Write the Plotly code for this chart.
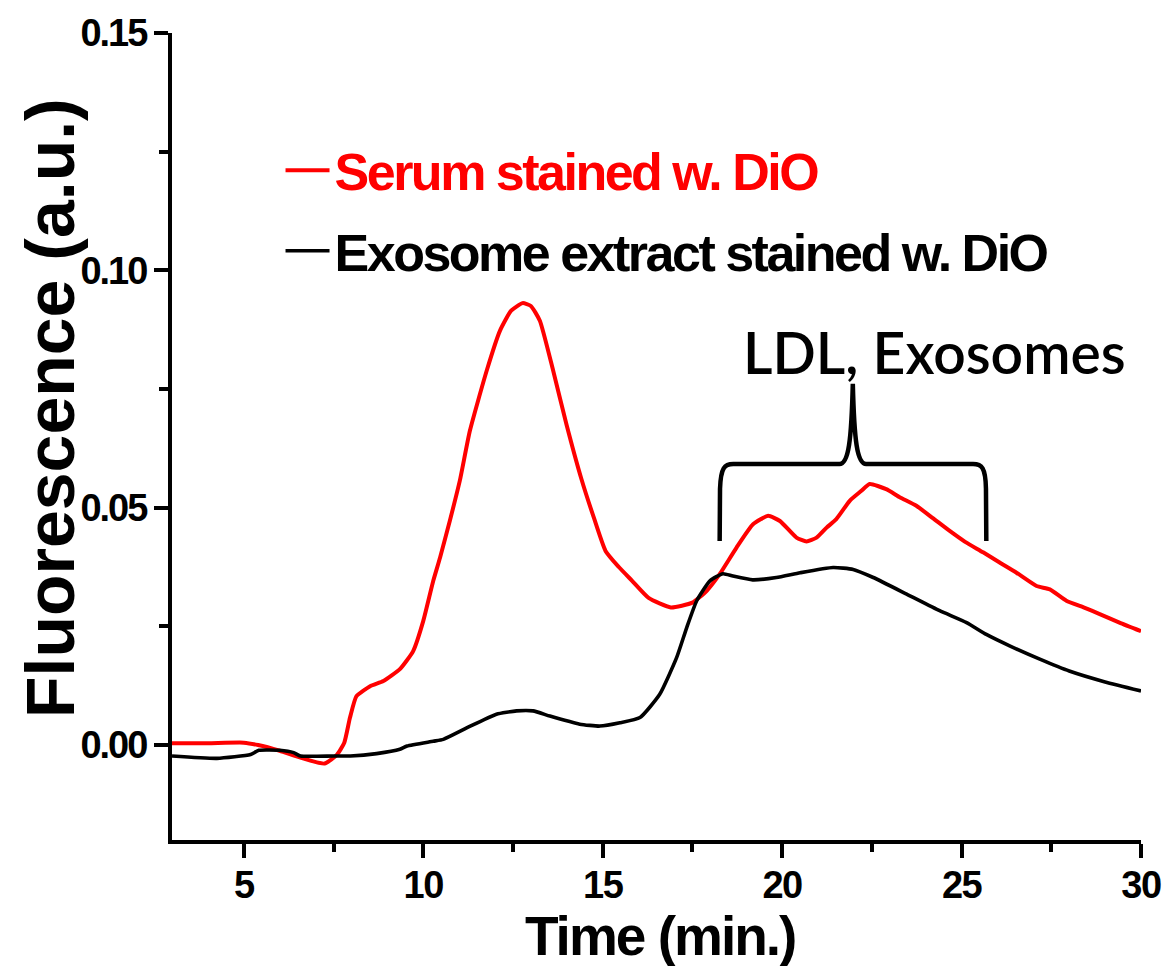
import plotly.graph_objects as go

# ---- data ----
t_serum = [3.0, 4.0, 5.0, 5.4, 6.0, 6.6, 7.25, 7.6, 7.8, 7.96, 8.14, 8.52, 8.89, 9.35, 9.72,
           10.0, 10.28, 10.47, 10.74, 11.02, 11.3, 11.77, 12.14, 12.45, 12.77, 13.0, 13.25,
           13.62, 13.99, 14.41, 14.75, 15.08, 15.45, 15.82, 16.28, 16.9, 17.5, 17.9, 18.26,
           18.73, 19.19, 19.61, 19.94, 20.4, 20.68, 20.96, 21.24, 21.51, 21.89, 22.2, 22.44,
           22.9, 23.28, 23.74, 24.2, 24.67, 25.1, 25.6, 26.05, 26.53, 27.09, 27.46, 27.92,
           28.4, 28.85, 29.4, 30.0]
y_serum = [0.0004, 0.0004, 0.0005, 0.0000, -0.0012, -0.0027, -0.0039, -0.0020, 0.0005, 0.0058,
           0.0103, 0.0124, 0.0135, 0.0160, 0.0198, 0.0261, 0.0346, 0.0395, 0.0472, 0.0557,
           0.0662, 0.0789, 0.0873, 0.0915, 0.0931, 0.0925, 0.0894, 0.0789, 0.0676, 0.0560,
           0.0480, 0.0409, 0.0375, 0.0346, 0.0310, 0.0290, 0.0300, 0.0325, 0.0360, 0.0416,
           0.0465, 0.0483, 0.0472, 0.0437, 0.0429, 0.0437, 0.0458, 0.0476, 0.0515, 0.0535,
           0.0550, 0.0539, 0.0522, 0.0504, 0.0478, 0.0451, 0.0428, 0.0406, 0.0385, 0.0363,
           0.0335, 0.0328, 0.0304, 0.0290, 0.0276, 0.0258, 0.0240]

t_exo = [3.0, 4.25, 5.19, 5.42, 6.0, 6.39, 6.58, 7.5, 7.97, 8.7, 9.35, 9.55, 10.28, 10.56,
         11.21, 12.04, 12.6, 13.06, 13.53, 14.36, 14.92, 15.48, 16.04, 16.59, 17.06, 17.34,
         17.62, 17.99, 18.35, 18.63, 19.18, 19.84, 20.5, 21.42, 21.98, 22.54, 23.47, 24.39,
         25.14, 25.69, 26.34, 27.18, 28.0, 29.0, 30.0]
y_exo = [-0.0023, -0.0028, -0.0020, -0.0011, -0.0011, -0.0016, -0.0023, -0.0023, -0.0023,
         -0.0018, -0.0009, -0.0002, 0.0008, 0.0012, 0.0036, 0.0065, 0.0072, 0.0072, 0.0061,
         0.0044, 0.0040, 0.0047, 0.0058, 0.0107, 0.0184, 0.0247, 0.0304, 0.0346, 0.0361,
         0.0356, 0.0348, 0.0353, 0.0363, 0.0374, 0.0370, 0.0353, 0.0318, 0.0283, 0.0258,
         0.0233, 0.0209, 0.0181, 0.0156, 0.0133, 0.0114]

x_tickvals = [5, 10, 15, 20, 25, 30]
x_ticklabels = ["5", "10", "15", "20", "25", "30"]
y_tickvals = [0.0, 0.05, 0.10, 0.15]
y_ticklabels = ["0.00", "0.05", "0.10", "0.15"]

name_serum = "Serum stained w. DiO"
name_exo = "Exosome extract stained w. DiO"
annot_text = "LDL, Exosomes"
x_title = "Time (min.)"
y_title = "Fluorescence (a.u.)"
x_range = [3, 30]
y_range = [-0.02, 0.15]

SANS = "Liberation Sans, Arial, sans-serif"


def tight(s, ls, color=None):
    st = f"letter-spacing:{ls}px"
    if color:
        st += f";color:{color}"
    return f"<span style='{st}'>{s}</span>"


fig = go.Figure()
fig.add_trace(go.Scatter(x=t_serum, y=y_serum, mode="lines",
                         name=tight(name_serum, -2.5, "#ff0000"),
                         line=dict(color="#ff0000", width=4, shape="spline", smoothing=0.5),
                         legendgroup="a"))
fig.add_trace(go.Scatter(x=t_exo, y=y_exo, mode="lines",
                         name=tight(name_exo, -2.5),
                         line=dict(color="#000000", width=3.6, shape="spline", smoothing=0.5),
                         legendgroup="b"))

# curly brace above the late-eluting peaks
brace = ("M 18.26,0.043 L 18.27,0.054 C 18.29,0.0585 18.40,0.0592 18.64,0.0592 "
         "L 21.60,0.0592 C 21.85,0.0592 21.93,0.064 21.97,0.0761 "
         "C 22.01,0.064 22.09,0.0592 22.34,0.0592 L 25.32,0.0592 "
         "C 25.56,0.0592 25.67,0.0585 25.68,0.054 L 25.69,0.043")
fig.add_shape(type="path", path=brace, xref="x", yref="y",
              line=dict(color="black", width=4.5))

fig.add_annotation(x=24.25, y=0.0827, xref="x", yref="y", text=annot_text,
                   showarrow=False,
                   font=dict(family="Lato, Carlito, Calibri, sans-serif",
                             size=57, color="black", weight=600))

# y-axis title (rotated text, slightly above the plot centre like the reference)
fig.add_annotation(xref="paper", yref="paper",
                   x=(50 - 172) / 969, y=1 - (408 - 33) / 807,
                   xanchor="center", yanchor="middle",
                   text=y_title, showarrow=False, textangle=-90,
                   font=dict(family=SANS, size=68, color="black", weight="bold"))

# x-axis title
fig.add_annotation(xref="paper", yref="paper",
                   x=(660 - 172) / 969, y=1 - (936 - 33) / 807,
                   xanchor="center", yanchor="middle",
                   text=tight(x_title, -2), showarrow=False,
                   font=dict(family=SANS, size=55, color="black", weight="bold"))

axis_common = dict(showline=True, linewidth=4, linecolor="black", mirror=False,
                   ticks="outside", ticklen=14, tickwidth=4, tickcolor="black",
                   showgrid=False, zeroline=False,
                   tickfont=dict(family=SANS, size=38, color="black", weight="bold"))

fig.update_xaxes(range=x_range, tickmode="array", tickvals=x_tickvals,
                 ticktext=[tight(s, -1.5) for s in x_ticklabels],
                 ticklabelstandoff=-6,
                 minor=dict(ticks="outside", ticklen=8, tickwidth=4, dtick=2.5, tick0=0,
                            tickcolor="black"),
                 **axis_common)
fig.update_yaxes(range=y_range, tickmode="array", tickvals=y_tickvals,
                 ticktext=[tight(s, -2) for s in y_ticklabels],
                 minor=dict(ticks="outside", ticklen=9, tickwidth=4, dtick=0.025, tick0=0,
                            tickcolor="black"),
                 **axis_common)

fig.update_layout(
    width=1169, height=966,
    margin=dict(l=172, r=28, t=33, b=126, autoexpand=False),
    paper_bgcolor="white", plot_bgcolor="white",
    showlegend=True,
    legend=dict(x=0.112, y=0.88, xanchor="left", yanchor="top",
                bgcolor="rgba(0,0,0,0)", borderwidth=0,
                font=dict(family=SANS, size=52, color="black", weight="bold"),
                tracegroupgap=10, itemwidth=44),
)

fig.write_html("out.html")
